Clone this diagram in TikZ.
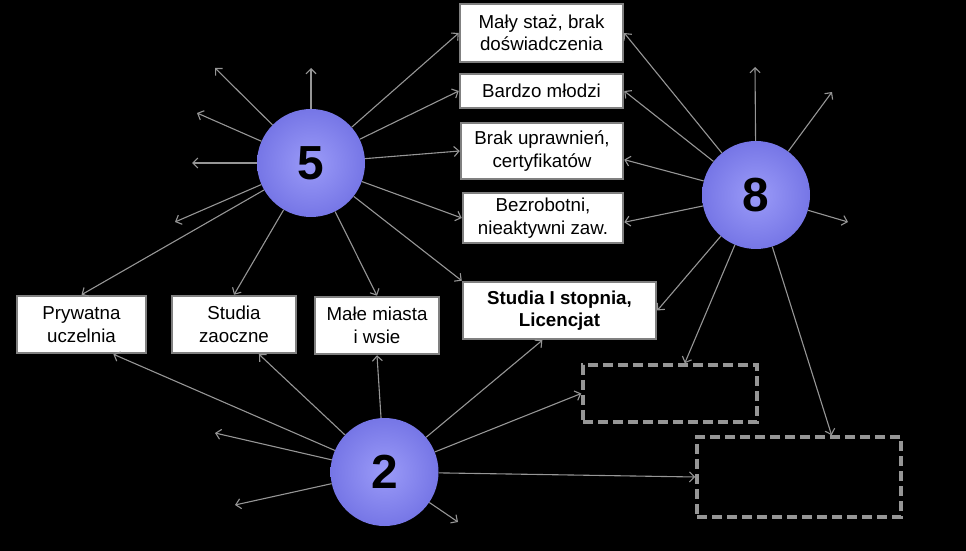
\documentclass[tikz,border=0pt]{standalone}
\usepackage{fontspec}
\setmainfont{Liberation Sans}
\usepackage{tikz}
\usetikzlibrary{arrows.meta}
\definecolor{linegray}{RGB}{150,150,150}
\definecolor{boxgray}{RGB}{128,128,128}
\definecolor{ballin}{RGB}{155,155,248}
\definecolor{ballout}{RGB}{118,118,230}
\tikzstyle{ball}=[circle, inner color=ballin, outer color=ballout,
minimum size=108bp, inner sep=0pt, font=\fontsize{48}{48}\selectfont\bfseries]
\tikzstyle{box}=[rectangle, draw=boxgray, line width=2.5bp, fill=white,
align=center, inner sep=0pt, font=\fontsize{18.8}{22.5}\selectfont]
\tikzstyle{empty}=[rectangle, draw=linegray, line width=3.5bp,
dash pattern=on 10bp off 5bp, inner sep=0pt]
\tikzstyle{link}=[draw=linegray, line width=1.1bp,
-{Straight Barb[length=5bp, width=10bp]}]

\begin{document}
\begin{tikzpicture}[x=1bp, y=-1bp]
  % Background
  \useasboundingbox (0, 0) rectangle (966, 551);
  \fill[black] (0, 0) rectangle (966, 551);

  % Right Boxes
  \node (maly) at (541.5, 33) [box, minimum width=163bp, minimum height=58bp]{Mały staż, brak\\doświadczenia};
  \node (bardzo) at (541.5, 91) [box, minimum width=163bp, minimum height=34bp]{Bardzo młodzi};
  \node (brak) at (542, 151) [box, minimum width=162bp, minimum height=56bp]{Brak uprawnień,\\certyfikatów};
  \node (bezrob) at (543, 218) [box, minimum width=160bp, minimum height=50bp]{Bezrobotni,\\nieaktywni zaw.};
  \node (lic) at (559.5, 310.5) [box, minimum width=193bp, minimum height=57bp, font=\fontsize{18.8}{22.5}\selectfont\bfseries]{Studia I stopnia,\\Licencjat};

  % Bottom Boxes
  \node (pryw) at (81.5, 324.5) [box, minimum width=129bp, minimum height=57bp]{Prywatna\\uczelnia};
  \node (zaoc) at (234, 324.5) [box, minimum width=124bp, minimum height=57bp]{Studia\\zaoczne};
  \node (miasta) at (377, 325.5) [box, minimum width=124bp, minimum height=57bp]{Małe miasta\\i wsie};

  % Empty Boxes
  \node (pusty1) at (670, 393.5) [empty, minimum width=174bp, minimum height=57bp]{};
  \node (pusty2) at (799, 477) [empty, minimum width=204bp, minimum height=80bp]{};

  % Balls
  \node (k5) at (311, 163) [ball]{5};
  \node (k8) at (756, 195) [ball]{8};
  \node (k2) at (384.5, 472) [ball]{2};

  % Free Ends
  \coordinate (a1) at (311, 68);
  \coordinate (a2) at (215, 68);
  \coordinate (a3) at (197, 113);
  \coordinate (a4) at (192, 163);
  \coordinate (a5) at (175, 222);
  \coordinate (b1) at (755, 67);
  \coordinate (b2) at (832, 92);
  \coordinate (b3) at (848, 222);
  \coordinate (c1) at (215, 433);
  \coordinate (c2) at (235, 505);
  \coordinate (c3) at (458, 522);

  % Edges from 5
  \draw[link] (k5) to (a1);
  \draw[link] (k5) to (a2);
  \draw[link] (k5) to (a3);
  \draw[link] (k5) to (a4);
  \draw[link] (k5) to (a5);
  \draw[link] (k5) to (maly.west);
  \draw[link] (k5) to (bardzo.west);
  \draw[link] (k5) to (brak.west);
  \draw[link] (k5) to (bezrob.west);
  \draw[link] (k5) to (lic.north west);
  \draw[link] (k5) to (miasta.north);
  \draw[link] (k5) to (zaoc.north);
  \draw[link] (k5) to (pryw.north);

  % Edges from 8
  \draw[link] (k8) to (b1);
  \draw[link] (k8) to (b2);
  \draw[link] (k8) to (b3);
  \draw[link] (k8) to (maly.east);
  \draw[link] (k8) to (bardzo.east);
  \draw[link] (k8) to (brak.-6);
  \draw[link] (k8) to (bezrob.-3);
  \draw[link] (k8) to (lic.east);
  \draw[link] (k8) to (pusty1.64);
  \draw[link] (k8) to (pusty2.52);

  % Edges from 2
  \draw[link] (k2) to (c1);
  \draw[link] (k2) to (c2);
  \draw[link] (k2) to (c3);
  \draw[link] (k2) to (pryw.-43);
  \draw[link] (k2) to (zaoc.-50);
  \draw[link] (k2) to (miasta.south);
  \draw[link] (k2) to (lic.-120);
  \draw[link] (k2) to (pusty1.west);
  \draw[link] (k2) to (pusty2.west);
\end{tikzpicture}
\end{document}
